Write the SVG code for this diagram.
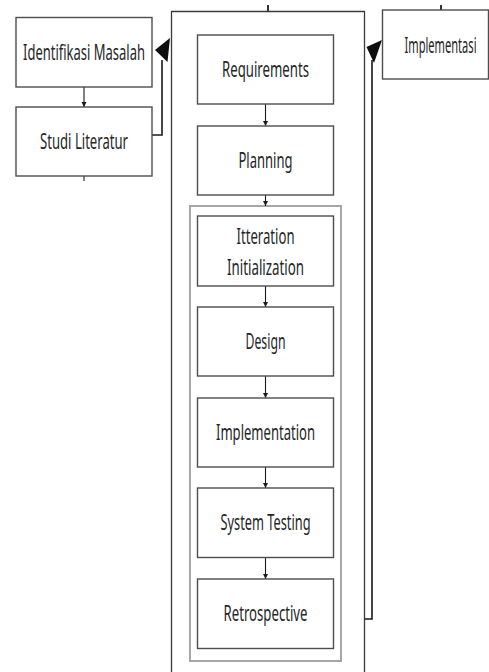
<svg xmlns="http://www.w3.org/2000/svg" width="489" height="672" viewBox="0 0 489 672">
  <defs>
    <marker id="tip" viewBox="0 0 10 10" refX="10" refY="5" markerWidth="5" markerHeight="6" markerUnits="userSpaceOnUse" orient="auto">
      <path d="M0,0 L10,5 L0,10 Z" fill="#1a1a1a"/>
    </marker>
  </defs>
  <style>
    .box { fill: #ffffff; stroke: #4d4d4d; stroke-width: 1.4; }
    .frame { fill: none; stroke: #3a3a3a; stroke-width: 1.3; }
    .group { fill: none; stroke: #a6a6a6; stroke-width: 2; }
    .lbl { font-family: "Noto Sans", "Open Sans", "Liberation Sans", sans-serif; font-size: 21px; fill: #262626; text-anchor: middle; }
    .link { fill: none; stroke: #1a1a1a; stroke-width: 1.1; }
    .flow { fill: none; stroke: #1a1a1a; stroke-width: 1.6; }
    .head { fill: #0d0d0d; }
    .tick { stroke: #333333; stroke-width: 2; }
  </style>

  <rect width="489" height="672" fill="#ffffff"/>

  <!-- main process frame and the iteration group inside it -->
  <g id="process-frame">
    <path class="frame" d="M171.5,673 V11.5 H364.5 V673"/>
  </g>
  <g id="iteration-group">
    <rect class="group" x="190" y="206" width="151" height="455"/>
  </g>

  <!-- connectors -->
  <g id="connectors">
    <line class="link" x1="84" y1="87" x2="84" y2="107" marker-end="url(#tip)"/>
    <line class="link" x1="265.5" y1="104" x2="265.5" y2="126" marker-end="url(#tip)"/>
    <line class="link" x1="265.5" y1="195" x2="265.5" y2="206" marker-end="url(#tip)"/>
    <line class="link" x1="265.5" y1="286" x2="265.5" y2="307" marker-end="url(#tip)"/>
    <line class="link" x1="265.5" y1="376" x2="265.5" y2="398" marker-end="url(#tip)"/>
    <line class="link" x1="265.5" y1="467" x2="265.5" y2="488" marker-end="url(#tip)"/>
    <line class="link" x1="265.5" y1="557" x2="265.5" y2="579" marker-end="url(#tip)"/>

    <polyline class="flow" points="152,135 162,135 162,60"/>
    <polygon class="head" points="155,50 170,38 167.5,62"/>

    <polyline class="flow" points="364.5,619 372,619 372,60"/>
    <polygon class="head" points="366.5,47 382,40 374,63"/>

    <line class="tick" x1="268" y1="5" x2="268" y2="11"/>
    <line class="tick" x1="441" y1="5" x2="441" y2="11"/>
    <line class="link" x1="84" y1="176" x2="84" y2="181"/>
  </g>

  <g id="identifikasi-masalah">
    <rect class="box" x="16" y="17.5" width="136" height="69.5"/>
    <text class="lbl" x="84" y="60" textLength="122" lengthAdjust="spacingAndGlyphs">Identifikasi Masalah</text>
  </g>

  <g id="studi-literatur">
    <rect class="box" x="16" y="107" width="136" height="69"/>
    <text class="lbl" x="84" y="149" textLength="88" lengthAdjust="spacingAndGlyphs">Studi Literatur</text>
  </g>

  <g id="implementasi">
    <rect class="box" x="382.5" y="10" width="106" height="69"/>
    <!-- narrow label: squeezed horizontally so it stays inside the page edge -->
    <text class="lbl" transform="translate(440.5 52.5) scale(0.55 1)" x="0" y="0" textLength="131" lengthAdjust="spacingAndGlyphs">Implementasi</text>
  </g>

  <g id="requirements">
    <rect class="box" x="197.5" y="35" width="136" height="69"/>
    <text class="lbl" x="265.5" y="77" textLength="87" lengthAdjust="spacingAndGlyphs">Requirements</text>
  </g>

  <g id="planning">
    <rect class="box" x="197.5" y="126" width="136" height="69"/>
    <text class="lbl" x="265.5" y="168" textLength="54" lengthAdjust="spacingAndGlyphs">Planning</text>
  </g>

  <g id="iteration-initialization">
    <rect class="box" x="197.5" y="216" width="136" height="70"/>
    <text class="lbl" x="265.5" y="244" textLength="58" lengthAdjust="spacingAndGlyphs">Itteration</text>
    <text class="lbl" x="265.5" y="275" textLength="77" lengthAdjust="spacingAndGlyphs">Initialization</text>
  </g>

  <g id="design">
    <rect class="box" x="197.5" y="307" width="136" height="69"/>
    <text class="lbl" x="265.5" y="349" textLength="40" lengthAdjust="spacingAndGlyphs">Design</text>
  </g>

  <g id="implementation">
    <rect class="box" x="197.5" y="398" width="136" height="69"/>
    <text class="lbl" x="265.5" y="440" textLength="99" lengthAdjust="spacingAndGlyphs">Implementation</text>
  </g>

  <g id="system-testing">
    <rect class="box" x="197.5" y="488" width="136" height="69.5"/>
    <text class="lbl" x="265.5" y="530" textLength="90" lengthAdjust="spacingAndGlyphs">System Testing</text>
  </g>

  <g id="retrospective">
    <rect class="box" x="197.5" y="579" width="136" height="69.5"/>
    <text class="lbl" x="265.5" y="621" textLength="84" lengthAdjust="spacingAndGlyphs">Retrospective</text>
  </g>
</svg>
